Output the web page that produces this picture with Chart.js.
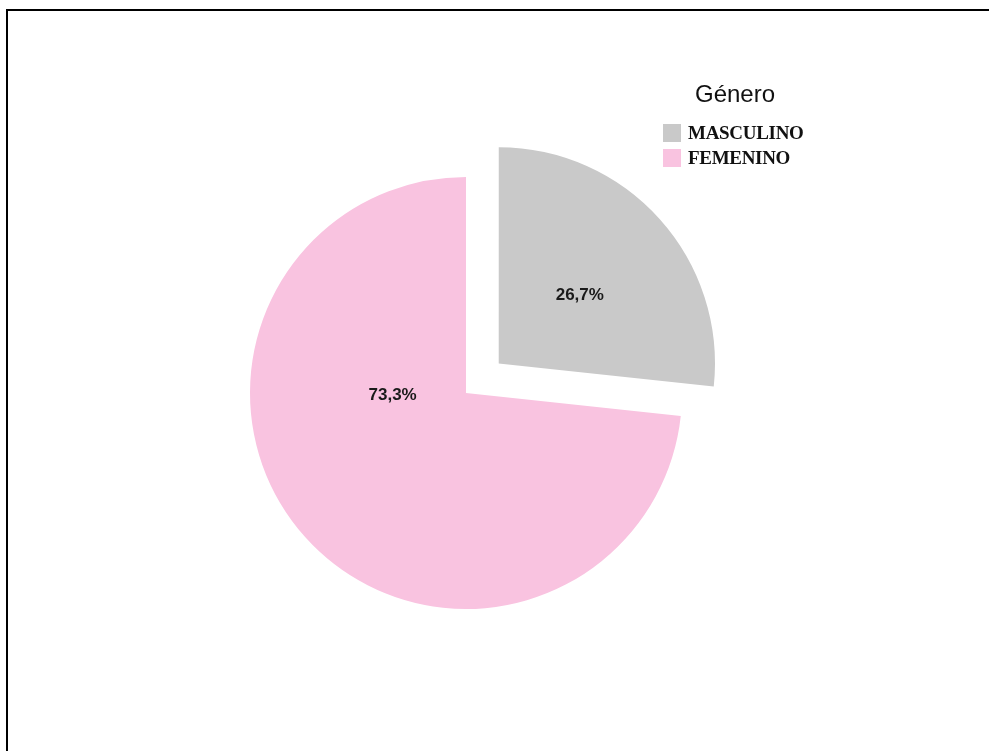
<!doctype html>
<html lang="es">
<head>
  <meta charset="utf-8">
  <title>Género</title>
  <script src="https://cdn.jsdelivr.net/npm/chart.js@4/dist/chart.umd.min.js"></script>
  <style>
    html, body { margin: 0; padding: 0; background: #fff; overflow: hidden; }
    #frame {
      position: absolute; left: 6px; top: 9px; width: 1100px; height: 900px;
      border-top: 2px solid #000; border-left: 2px solid #000;
    }
    #canvas { position: absolute; left: 0; top: 0; }
    #legend { position: absolute; left: 663px; top: 82px; }
    #legend .title {
      font-family: "Liberation Sans", Arial, sans-serif; font-size: 24px; line-height: 24px;
      margin-left: 32px; height: 38px; color: #111;
    }
    #legend .item { display: flex; align-items: center; height: 25px; }
    #legend .box { width: 18px; height: 18px; margin-right: 7px; }
    #legend .txt {
      font-family: "Liberation Serif", "Times New Roman", serif; font-weight: bold;
      font-size: 19px; line-height: 18px; color: #111; letter-spacing: -0.3px;
    }
  </style>
</head>
<body>
  <div id="frame"></div>
  <canvas id="canvas" width="989" height="751"></canvas>
  <div id="legend"></div>
  <script>
    // datos
    var categorias = ['MASCULINO', 'FEMENINO'];
    var porcentajes = [26.7, 73.3];
    var etiquetas = ['26,7%', '73,3%'];
    var colores = ['#C9C9C9', '#F9C3E0'];
    var tituloLeyenda = 'Género';

    // posicion de las etiquetas (angulo en grados, fraccion del radio)
    var etiquetaAngulo = [-40, 178];
    var etiquetaRadio = [0.49, 0.34];
    var separacion = [176, 0];

    // leyenda en html
    var leyenda = document.getElementById('legend');
    var t = document.createElement('div');
    t.className = 'title';
    t.textContent = tituloLeyenda;
    leyenda.appendChild(t);
    categorias.forEach(function(c, i) {
      var fila = document.createElement('div');
      fila.className = 'item';
      fila.innerHTML = '<span class="box" style="background:' + colores[i] + '"></span><span class="txt">' + c + '</span>';
      leyenda.appendChild(fila);
    });

    var etiquetasPlugin = {
      id: 'etiquetas',
      afterDatasetsDraw: function(chart) {
        var ctx = chart.ctx;
        var meta = chart.getDatasetMeta(0);
        ctx.save();
        ctx.font = 'bold 17px "Liberation Sans", Arial, sans-serif';
        ctx.fillStyle = '#1a1a1a';
        ctx.textAlign = 'center';
        ctx.textBaseline = 'middle';
        meta.data.forEach(function(arc, i) {
          var medio = (arc.startAngle + arc.endAngle) / 2;
          var desp = (arc.options.offset || 0) / 4;
          var cx = arc.x + Math.cos(medio) * desp;
          var cy = arc.y + Math.sin(medio) * desp;
          var ang = etiquetaAngulo[i] * Math.PI / 180;
          var r = arc.outerRadius * etiquetaRadio[i];
          ctx.fillText(etiquetas[i], cx + Math.cos(ang) * r, cy + Math.sin(ang) * r);
        });
        ctx.restore();
      }
    };

    var ctx = document.getElementById('canvas').getContext('2d');
    new Chart(ctx, {
      type: 'pie',
      data: {
        labels: categorias,
        datasets: [{
          data: porcentajes,
          backgroundColor: colores,
          borderWidth: 0,
          offset: separacion,
          hoverOffset: 0,
          radius: 216
        }]
      },
      options: {
        responsive: false,
        animation: false,
        layout: { padding: { left: 228, right: 285, top: 155, bottom: 120 } },
        plugins: {
          legend: { display: false },
          tooltip: { enabled: false }
        }
      },
      plugins: [etiquetasPlugin]
    });
  </script>
</body>
</html>
